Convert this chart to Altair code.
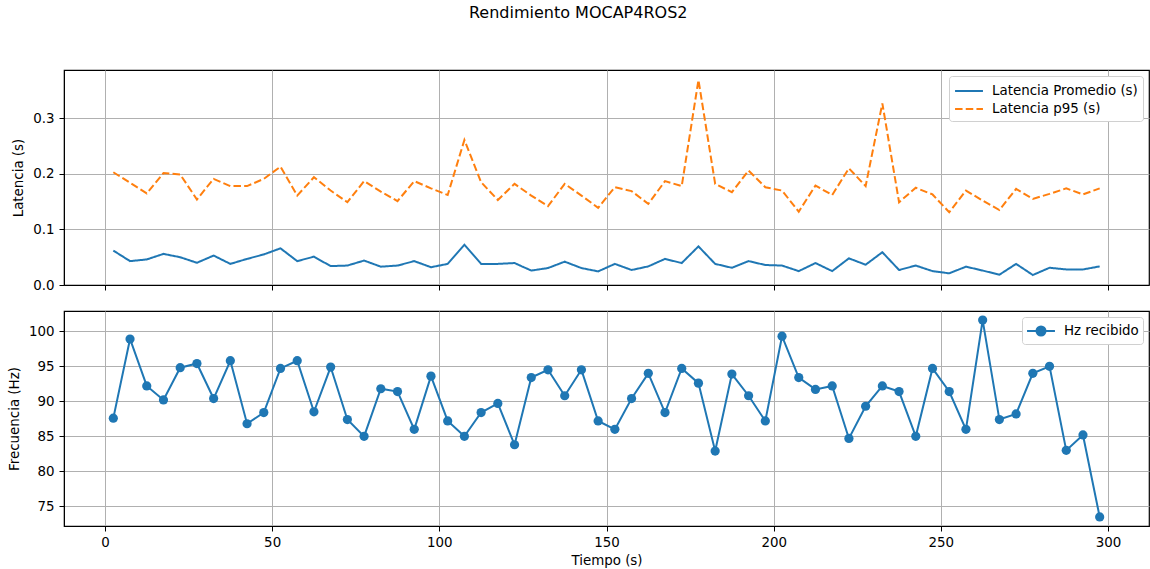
import altair as alt
import pandas as pd

# Time stamps (s)
tiempo = [2.5, 7.5, 12.5, 17.5, 22.5, 27.5, 32.5, 37.5, 42.5, 47.5,
          52.5, 57.5, 62.5, 67.5, 72.5, 77.5, 82.5, 87.5, 92.5, 97.5,
          102.5, 107.5, 112.5, 117.5, 122.5, 127.5, 132.5, 137.5, 142.5, 147.5,
          152.5, 157.5, 162.5, 167.5, 172.5, 177.5, 182.5, 187.5, 192.5, 197.5,
          202.5, 207.5, 212.5, 217.5, 222.5, 227.5, 232.5, 237.5, 242.5, 247.5,
          252.5, 257.5, 262.5, 267.5, 272.5, 277.5, 282.5, 287.5, 292.5, 297.5]

lat_prom = [0.062, 0.043, 0.046, 0.056, 0.050, 0.040, 0.053, 0.038, 0.047, 0.055,
            0.066, 0.043, 0.051, 0.034, 0.035, 0.044, 0.033, 0.035, 0.043, 0.032,
            0.038, 0.0725, 0.038, 0.038, 0.0395, 0.026, 0.0305, 0.042, 0.0305, 0.0245,
            0.038, 0.027, 0.0335, 0.047, 0.0395, 0.0695, 0.038, 0.031, 0.043, 0.036,
            0.035, 0.025, 0.0395, 0.025, 0.048, 0.0365, 0.059, 0.027, 0.035, 0.025,
            0.021, 0.033, 0.026, 0.0185, 0.038, 0.018, 0.031, 0.028, 0.028, 0.0335]

lat_p95 = [0.203, 0.184, 0.165, 0.2015, 0.199, 0.154, 0.191, 0.178, 0.178, 0.191,
           0.213, 0.161, 0.194, 0.170, 0.149, 0.187, 0.168, 0.151, 0.187, 0.174,
           0.162, 0.261, 0.185, 0.153, 0.182, 0.161, 0.142, 0.182, 0.161, 0.139,
           0.176, 0.169, 0.146, 0.187, 0.178, 0.369, 0.182, 0.167, 0.206, 0.176,
           0.170, 0.132, 0.179, 0.162, 0.210, 0.178, 0.327, 0.149, 0.175, 0.163,
           0.131, 0.170, 0.152, 0.135, 0.173, 0.155, 0.164, 0.174, 0.163, 0.174]

hz = [87.6, 98.9, 92.2, 90.2, 94.8, 95.4, 90.4, 95.8, 86.8, 88.4,
      94.7, 95.8, 88.5, 94.9, 87.4, 85.0, 91.8, 91.4, 86.0, 93.6,
      87.2, 85.0, 88.4, 89.7, 83.8, 93.4, 94.5, 90.8, 94.5, 87.2,
      86.0, 90.4, 94.0, 88.4, 94.7, 92.6, 82.9, 93.9, 90.8, 87.2,
      99.3, 93.4, 91.7, 92.2, 84.7, 89.3, 92.2, 91.4, 85.0, 94.7,
      91.4, 86.0, 101.6, 87.4, 88.2, 94.0, 95.0, 83.0, 85.2, 73.5]

series_lat = ["Latencia Promedio (s)", "Latencia p95 (s)"]
series_hz = ["Hz recibido"]
x_ticks = [0, 50, 100, 150, 200, 250, 300]
y_ticks_top = [0.0, 0.1, 0.2, 0.3]
y_ticks_bot = [75, 80, 85, 90, 95, 100]

BLUE = "#1f77b4"
ORANGE = "#ff7f0e"
FONT = "DejaVu Sans"
FS = 13.4
W, H = 1085, 215
VIEW = alt.ViewBackground(stroke="black", strokeWidth=1.2, fill="white")

df_lat = pd.concat([
    pd.DataFrame({"t": tiempo, "v": lat_prom, "s": series_lat[0]}),
    pd.DataFrame({"t": tiempo, "v": lat_p95, "s": series_lat[1]}),
])
df_hz = pd.DataFrame({"t": tiempo, "v": hz, "h": series_hz[0]})

x_scale = alt.Scale(domain=[-12.25, 312.25], nice=False, zero=False)

def x_axis(labels, title):
    kw = dict(values=x_ticks, grid=True, gridColor="#b0b0b0", gridWidth=1,
              domain=True, domainColor="black", domainWidth=1,
              tickColor="black", tickSize=5, tickWidth=1,
              labels=labels, labelFont=FONT, labelFontSize=FS, labelColor="black",
              labelPadding=4, labelFlush=False)
    if title:
        kw.update(title=title, titleFont=FONT, titleFontSize=FS,
                  titleFontWeight="normal", titleColor="black", titlePadding=5)
    else:
        kw.update(title=None)
    return alt.Axis(**kw)

def y_axis(values, title, fmt):
    return alt.Axis(values=values, format=fmt, grid=True, gridColor="#b0b0b0", gridWidth=1,
                    domain=True, domainColor="black", domainWidth=1,
                    tickColor="black", tickSize=5, tickWidth=1,
                    labelFont=FONT, labelFontSize=FS, labelColor="black", labelPadding=5,
                    title=title, titleFont=FONT, titleFontSize=FS, titleFontWeight="normal",
                    titleColor="black", titlePadding=7)

leg_top = alt.Legend(title=None, orient="top-right", offset=6,
                     fillColor="white", strokeColor="#d0d0d0", cornerRadius=3,
                     padding=5, rowPadding=1,
                     labelFont=FONT, labelFontSize=FS, labelColor="black", labelOffset=13,
                     symbolType="M-1.55,0L1.55,0", symbolSize=324, symbolStrokeWidth=2,
                     symbolOffset=5)

top = alt.Chart(df_lat).mark_line(strokeWidth=2).encode(
    x=alt.X("t:Q", scale=x_scale, axis=x_axis(False, None)),
    y=alt.Y("v:Q", scale=alt.Scale(domain=[0, 0.387], nice=False),
            axis=y_axis(y_ticks_top, "Latencia (s)", ".1f")),
    color=alt.Color("s:N", scale=alt.Scale(domain=series_lat, range=[BLUE, ORANGE]),
                    legend=leg_top),
    strokeDash=alt.StrokeDash("s:N", scale=alt.Scale(domain=series_lat, range=[[1, 0], [7.5, 3.2]]),
                              legend=leg_top),
).properties(width=W, height=H, view=VIEW)

leg_bot = alt.Legend(title=None, orient="top-right", offset=6,
                     fillColor="white", strokeColor="#d0d0d0", cornerRadius=3,
                     padding=4,
                     labelFont=FONT, labelFontSize=FS, labelColor="black", labelOffset=13,
                     symbolType="M-1.55,0L1.55,0M-0.5,0A0.5,0.5,0,1,1,0.5,0A0.5,0.5,0,1,1,-0.5,0Z",
                     symbolSize=324, symbolStrokeWidth=2,
                     symbolFillColor=BLUE, symbolStrokeColor=BLUE, symbolOffset=5)

base_b = alt.Chart(df_hz).encode(
    x=alt.X("t:Q", scale=x_scale, axis=x_axis(True, "Tiempo (s)")),
    y=alt.Y("v:Q", scale=alt.Scale(domain=[72.2, 102.9], nice=False, zero=False),
            axis=y_axis(y_ticks_bot, "Frecuencia (Hz)", "d")),
    color=alt.Color("h:N", scale=alt.Scale(domain=series_hz, range=[BLUE]), legend=leg_bot),
)
bottom = alt.layer(
    base_b.mark_line(strokeWidth=2),
    base_b.mark_circle(size=85, opacity=1),
).properties(width=W, height=H, view=VIEW)

chart = alt.vconcat(top, bottom, spacing=18).resolve_scale(
    color="independent", strokeDash="independent", x="independent", y="independent"
).resolve_legend(color="independent", strokeDash="independent").properties(
    title=alt.Title("Rendimiento MOCAP4ROS2", font=FONT, fontSize=16, fontWeight="normal",
                    color="black", anchor="middle", offset=48),
    padding={"left": 6, "top": 5, "right": 0, "bottom": 0},
).configure_view(stroke="black", strokeWidth=1.2).configure(background="white")

chart.save("out.html", embed_options={"renderer": "svg", "actions": False})
